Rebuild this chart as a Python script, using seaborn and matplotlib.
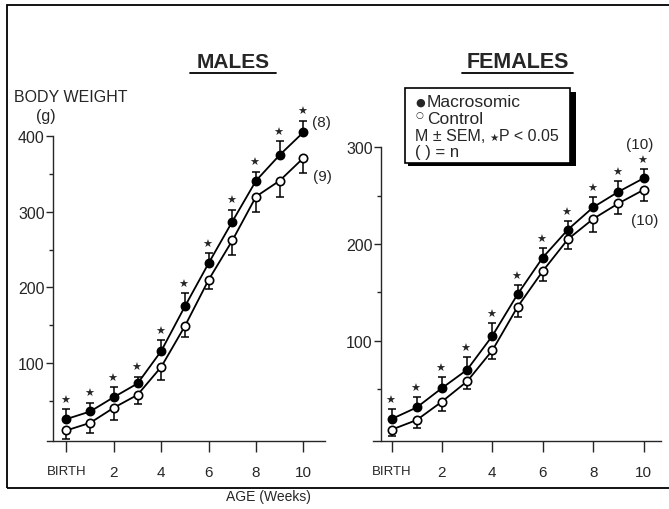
import matplotlib
matplotlib.use("Agg")
import matplotlib.pyplot as plt
import seaborn as sns
import pandas as pd
from matplotlib.patches import Rectangle
from matplotlib.lines import Line2D

# ---------------- data ----------------
weeks = [0, 1, 2, 3, 4, 5, 6, 7, 8, 9, 10]
tick_weeks = [0, 2, 4, 6, 8, 10]
tick_labels = ["BIRTH", "2", "4", "6", "8", "10"]

male_macro = [26, 36, 55, 73, 116, 175, 232, 287, 341, 375, 405]
male_macro_sem = [13, 11, 13, 9, 14, 17, 13, 15, 12, 18, 15]
male_ctrl = [11, 21, 41, 58, 95, 149, 210, 262, 320, 341, 371]
male_ctrl_sem = [11, 13, 16, 12, 18, 14, 12, 19, 21, 21, 20]

female_macro = [19, 31, 51, 70, 105, 148, 186, 215, 238, 254, 268]
female_macro_sem = [10, 11, 12, 13, 13, 10, 10, 9, 11, 11, 10]
female_ctrl = [8, 18, 37, 58, 90, 135, 172, 205, 226, 242, 256]
female_ctrl_sem = [7, 8, 10, 8, 9, 10, 10, 10, 14, 11, 12]

male_n = ["(8)", "(9)"]
female_n = ["(10)", "(10)"]

# ---------------- style ----------------
sns.set_style("ticks")
plt.rcParams["font.family"] = ["Liberation Sans", "DejaVu Sans"]
plt.rcParams["axes.linewidth"] = 1.0

W, H = 669, 510
fig = plt.figure(figsize=(W / 100, H / 100), dpi=100)


def rect(l, t, r, b):
    return [l / W, 1 - b / H, (r - l) / W, (b - t) / H]


def fx(px):
    return px / W


def fy(py):
    return 1 - py / H


axM = fig.add_axes(rect(46.7, 137, 325, 442.3))
axF = fig.add_axes(rect(373, 148.3, 661, 442.3))


def draw_panel(ax, macro, msem, ctrl, csem, xlim, ylim, spine_x, ymaj, ymin, star_off):
    df = pd.DataFrame({"week": weeks * 2,
                       "weight": macro + ctrl,
                       "group": ["Macrosomic"] * len(weeks) + ["Control"] * len(weeks)})
    # error bars: macrosomic upward, control downward
    ax.errorbar(weeks, macro, yerr=[[0] * len(weeks), msem], fmt="none",
                ecolor="black", elinewidth=1.1, capsize=3.2, capthick=1.1,
                zorder=2, clip_on=False)
    ax.errorbar(weeks, ctrl, yerr=[csem, [0] * len(weeks)], fmt="none",
                ecolor="black", elinewidth=1.1, capsize=3.2, capthick=1.1,
                zorder=2, clip_on=False)
    sns.lineplot(data=df[df.group == "Macrosomic"], x="week", y="weight", ax=ax,
                 color="black", linewidth=1.3, marker="o", markersize=6,
                 markerfacecolor="black", markeredgecolor="black",
                 markeredgewidth=1.1, zorder=3, clip_on=False, legend=False)
    sns.lineplot(data=df[df.group == "Control"], x="week", y="weight", ax=ax,
                 color="black", linewidth=1.3, marker="o", markersize=6,
                 markerfacecolor="white", markeredgecolor="black",
                 markeredgewidth=1.2, zorder=3, clip_on=False, legend=False)
    for w, m, s in zip(weeks, macro, msem):
        ax.annotate("\u2605", xy=(w, m + s), xytext=(-1, star_off),
                    textcoords="offset points", ha="center", va="center",
                    fontsize=8, family=["DejaVu Sans"], annotation_clip=False)
    ax.set_xlim(*xlim)
    ax.set_ylim(*ylim)
    for sp in ("top", "right"):
        ax.spines[sp].set_visible(False)
    ax.spines["left"].set_position(("data", spine_x))
    ax.spines["left"].set_bounds(ylim[0], ylim[1])
    ax.set_xticks(tick_weeks)
    ax.set_xticklabels(tick_labels)
    ax.set_yticks(ymaj)
    ax.set_yticks(ymin, minor=True)
    ax.tick_params(axis="x", length=8, width=1.0, pad=9, labelsize=11)
    ax.tick_params(axis="y", which="major", length=5, width=1.0, pad=1, labelsize=11.5)
    ax.tick_params(axis="y", which="minor", length=3, width=1.0)
    ax.get_xticklabels()[0].set_fontsize(9.5)
    ax.set_xlabel("")
    ax.set_ylabel("")
    ax.patch.set_alpha(0)


draw_panel(axM, male_macro, male_macro_sem, male_ctrl, male_ctrl_sem,
           (-0.835, 10.91), (-3.4, 400), -0.57,
           [100, 200, 300, 400], [50, 150, 250, 350], 7)
draw_panel(axF, female_macro, female_macro_sem, female_ctrl, female_ctrl_sem,
           (-0.734, 10.69), (-4.0, 300), -0.417,
           [100, 200, 300], [50, 150, 250], 6.5)

# n annotations
axM.annotate(male_n[0], xy=(10, male_macro[10]), xytext=(6, 2), textcoords="offset points",
             ha="left", va="bottom", fontsize=11, annotation_clip=False)
axM.annotate(male_n[1], xy=(10, male_ctrl[10]), xytext=(7, -8), textcoords="offset points",
             ha="left", va="top", fontsize=11, annotation_clip=False)
axF.annotate(female_n[0], xy=(10, female_macro[10]), xytext=(-3, 25), textcoords="offset points",
             ha="center", va="center", fontsize=11, annotation_clip=False)
axF.annotate(female_n[1], xy=(10, female_ctrl[10]), xytext=(1, -22), textcoords="offset points",
             ha="center", va="center", fontsize=11, annotation_clip=False)

# titles with underline
fig.text(fx(233), fy(63), "MALES", ha="center", va="center", fontsize=15, fontweight="bold")
fig.add_artist(Line2D([fx(190), fx(276)], [fy(74), fy(74)], color="black", lw=1.3))
fig.text(fx(518), fy(63), "FEMALES", ha="center", va="center", fontsize=15.5, fontweight="bold")
fig.add_artist(Line2D([fx(462), fx(573)], [fy(74), fy(74)], color="black", lw=1.3))

# y-axis label
fig.text(fx(14), fy(98), "BODY WEIGHT", ha="left", va="center", fontsize=11.5)
fig.text(fx(46), fy(117), "(g)", ha="center", va="center", fontsize=11.5)

# x-axis label
fig.text(fx(268), fy(497), "AGE (Weeks)", ha="center", va="center", fontsize=10)

# legend box with shadow
fig.add_artist(Rectangle((fx(408), fy(167)), (573 - 405) / W, (163 - 89) / H,
                         transform=fig.transFigure, facecolor="black", edgecolor="black",
                         lw=0, zorder=5))
fig.add_artist(Rectangle((fx(405), fy(164)), (570 - 405) / W, (164 - 89) / H,
                         transform=fig.transFigure, facecolor="white", edgecolor="black",
                         lw=1.2, zorder=6))
fig.text(fx(415), fy(103), "\u25cf", ha="left", va="center", fontsize=8, zorder=7,
         family=["DejaVu Sans"])
fig.text(fx(427), fy(103), "Macrosomic", ha="left", va="center", fontsize=12.5, zorder=7)
fig.text(fx(416), fy(116), "\u25cb", ha="left", va="center", fontsize=6.5, zorder=7,
         family=["DejaVu Sans"])
fig.text(fx(427), fy(120), "Control", ha="left", va="center", fontsize=12.5, zorder=7)
fig.text(fx(415), fy(137), "M \u00b1 SEM,", ha="left", va="center",
         fontsize=11.5, zorder=7)
fig.text(fx(489), fy(138), "\u2605", ha="left", va="center", fontsize=7.5, zorder=7,
         family=["DejaVu Sans"])
fig.text(fx(499), fy(137), "P < 0.05", ha="left", va="center",
         fontsize=11.5, zorder=7)
fig.text(fx(415), fy(153), "( ) = n", ha="left", va="center", fontsize=12, zorder=7)

# outer frame
fig.add_artist(Rectangle((fx(7), fy(489)), 1.2, (489 - 6) / H, transform=fig.transFigure,
                         facecolor="none", edgecolor="black", lw=1.3, zorder=0))

fig.savefig("out.png", dpi=100)
